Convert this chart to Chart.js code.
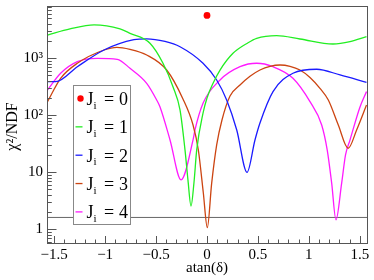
<!DOCTYPE html>
<html lang="en">
<head>
<meta charset="UTF-8">
<title>chi2/NDF vs atan(delta)</title>
<style>
  html, body { margin: 0; padding: 0; background: #fff; }
  #wrap { width: 374px; height: 280px; }
</style>
</head>
<body>
<div id="wrap"><canvas id="chart" width="374" height="280"></canvas></div>
<script src="https://cdn.jsdelivr.net/npm/chart.js"></script>
<script>
// J_i = 0 : only one point
const j0X = [0];
const j0Y = [5600];

// J_i = 1
const j1X = [-1.566, -1.345, -1.109, -0.854, -0.756, -0.560, -0.432, -0.334, -0.265, -0.216, -0.187, -0.157, -0.128, -0.101, -0.039, 0, 0.062, 0.128, 0.255, 0.403, 0.488, 0.684, 0.913, 1.237, 1.404, 1.566];
const j1Y = [2540, 3240, 3810, 3240, 2720, 1820, 811, 315, 123, 24.5, 7.3, 2.54, 6.5, 24.5, 108, 200, 370, 617, 1213, 1862, 2225, 2472, 2163, 1766, 1940, 2373];

// J_i = 2
const j2X = [-1.566, -1.485, -1.273, -1.011, -0.717, -0.592, -0.413, -0.265, -0.039, 0.095, 0.193, 0.292, 0.393, 0.471, 0.520, 0.648, 0.844, 1.077, 1.306, 1.566];
const j2Y = [385, 385, 706, 1387, 2100, 2180, 1960, 1583, 811, 413, 184, 54.7, 9.9, 36.6, 72.6, 258, 541, 637, 506, 376];

// J_i = 3
const j3X = [-1.566, -1.437, -1.273, -1.011, -0.884, -0.756, -0.592, -0.396, -0.236, -0.137, -0.085, -0.036, 0.003, 0.046, 0.095, 0.147, 0.226, 0.324, 0.422, 0.520, 0.619, 0.717, 0.815, 0.913, 1.011, 1.109, 1.191, 1.289, 1.386, 1.469, 1.566];
const j3Y = [172, 442, 811, 1387, 1546, 1426, 1134, 618, 192, 67, 24.4, 4.3, 1.06, 6.4, 30, 82, 216, 337, 480, 618, 718, 757, 718, 618, 457, 295, 184, 67, 26.2, 54.8, 150];

// J_i = 4
const j4X = [-1.566, -1.437, -1.273, -1.077, -0.881, -0.756, -0.592, -0.494, -0.462, -0.363, -0.255, -0.137, -0.118, -0.039, 0.128, 0.324, 0.488, 0.648, 0.844, 1.011, 1.126, 1.180, 1.224, 1.266, 1.322, 1.360, 1.404, 1.502, 1.566];
const j4Y = [275, 541, 865, 991, 952, 662, 361, 184, 140, 36.6, 7.3, 36.6, 54.8, 161, 413, 706, 811, 706, 442, 172, 67, 24.5, 6.4, 1.45, 6.4, 20, 36.6, 139, 258];

// horizontal reference line
const refX = [-1.5708, 1.5708];
const refY = [1.6, 1.6];

const spins = ['0', '1', '2', '3', '4'];
const colors = ['#ff0000', '#22ee22', '#1a1aff', '#cc4411', '#ff1aff'];
const xTicks = [-1.5, -1, -0.5, 0, 0.5, 1, 1.5];
const yTicks = [1, 10, 100, 1000];
const yTickLabels = ['1', '10', '10²', '10³'];

const pts = (xs, ys) => xs.map((x, i) => ({ x: x, y: ys[i] }));

function curve(label, xs, ys, color) {
  return {
    label: label,
    data: pts(xs, ys),
    borderColor: color,
    backgroundColor: color,
    borderWidth: 1.3,
    pointRadius: 0,
    cubicInterpolationMode: 'monotone',
    fill: false
  };
}

const serif = 'Liberation Serif, Times New Roman, serif';

// ROOT-like frame, inward ticks, titles and legend
const decorations = {
  id: 'decorations',
  afterDraw(chart) {
    const ctx = chart.ctx;
    const a = chart.chartArea;
    const sx = chart.scales.x, sy = chart.scales.y;
    ctx.save();

    // frame
    ctx.strokeStyle = '#555';
    ctx.lineWidth = 1;
    ctx.strokeRect(Math.round(a.left) + 0.5, Math.round(a.top) + 0.5,
      Math.round(a.right - a.left), Math.round(a.bottom - a.top));

    // x ticks
    ctx.beginPath();
    for (let k = -15; k <= 15; k++) {
      const px = Math.round(sx.getPixelForValue(k / 10)) + 0.5;
      const len = k % 5 === 0 ? 7 : 3.5;
      ctx.moveTo(px, a.bottom);
      ctx.lineTo(px, a.bottom - len);
    }
    // y ticks (log)
    for (let d = -1; d <= 3; d++) {
      for (let m = 1; m <= 9; m++) {
        const v = m * Math.pow(10, d);
        if (v < sy.min || v > sy.max) continue;
        const py = Math.round(sy.getPixelForValue(v)) + 0.5;
        const len = m === 1 ? 9.5 : 4.8;
        ctx.moveTo(a.left, py);
        ctx.lineTo(a.left + len, py);
      }
    }
    ctx.stroke();

    // axis titles
    ctx.fillStyle = '#000';
    ctx.font = '15px ' + serif;
    ctx.textAlign = 'center';
    ctx.textBaseline = 'middle';
    ctx.fillText('atan(δ)', (a.left + a.right) / 2, 268);
    ctx.save();
    ctx.translate(13, (a.top + a.bottom) / 2 + 2);
    ctx.rotate(-Math.PI / 2);
    ctx.font = '16px ' + serif;
    ctx.fillText('χ²/NDF', 0, 0);
    ctx.restore();

    // legend
    const lx = 73, ly = 85, lw = 58, lh = 140;
    ctx.fillStyle = '#fff';
    ctx.fillRect(lx, ly, lw, lh);
    ctx.strokeStyle = '#888';
    ctx.strokeRect(lx + 0.5, ly + 0.5, lw - 1, lh - 1);
    const rows = chart.data.datasets.filter(ds => ds.spin !== undefined);
    rows.forEach((ds, i) => {
      const ry = 98.5 + i * 28.35;
      if (ds.showLine === false) {
        ctx.fillStyle = ds.backgroundColor;
        ctx.beginPath();
        ctx.arc(80.5, ry, 3.2, 0, Math.PI * 2);
        ctx.fill();
      } else {
        ctx.strokeStyle = ds.borderColor;
        ctx.lineWidth = 1.3;
        ctx.beginPath();
        ctx.moveTo(75.5, ry);
        ctx.lineTo(82.5, ry);
        ctx.stroke();
      }
      ctx.fillStyle = '#000';
      ctx.textAlign = 'left';
      ctx.textBaseline = 'alphabetic';
      ctx.font = '18px ' + serif;
      ctx.fillText('J', 86.5, ry + 6.5);
      ctx.font = '11px ' + serif;
      ctx.fillText('i', 93.5, ry + 10);
      ctx.font = '18px ' + serif;
      ctx.fillText('=', 104, ry + 6.5);
      ctx.fillText(ds.spin, 119, ry + 6.5);
    });
    ctx.restore();
  }
};

const datasets = [
  {
    label: 'J_i = 0',
    spin: spins[0],
    data: pts(j0X, j0Y),
    showLine: false,
    pointRadius: 3.4,
    pointBorderWidth: 0,
    backgroundColor: colors[0],
    borderColor: colors[0]
  },
  Object.assign(curve('J_i = 1', j1X, j1Y, colors[1]), { spin: spins[1] }),
  Object.assign(curve('J_i = 2', j2X, j2Y, colors[2]), { spin: spins[2] }),
  Object.assign(curve('J_i = 3', j3X, j3Y, colors[3]), { spin: spins[3] }),
  Object.assign(curve('J_i = 4', j4X, j4Y, colors[4]), { spin: spins[4] }),
  {
    label: 'ref',
    data: pts(refX, refY),
    borderColor: '#666',
    borderWidth: 1,
    pointRadius: 0,
    fill: false
  }
];

new Chart(document.getElementById('chart'), {
  type: 'line',
  data: { datasets: datasets },
  options: {
    responsive: false,
    animation: false,
    devicePixelRatio: 1,
    layout: { padding: { top: 6, right: 7, left: 0, bottom: 0 } },
    plugins: { legend: { display: false }, tooltip: { enabled: false } },
    scales: {
      x: {
        type: 'linear',
        min: -Math.PI / 2,
        max: Math.PI / 2,
        afterBuildTicks: s => { s.ticks = xTicks.map(v => ({ value: v })); },
        afterFit: s => { s.height = 37; s.paddingLeft = 0; s.paddingRight = 0; },
        grid: { display: false, drawTicks: false },
        border: { display: false },
        ticks: {
          padding: 3,
          maxRotation: 0,
          autoSkip: false,
          color: '#000',
          font: { family: serif, size: 15 },
          callback: v => String(v).replace('-', '\u2212')
        }
      },
      y: {
        type: 'logarithmic',
        min: 0.57,
        max: 8200,
        afterBuildTicks: s => { s.ticks = yTicks.map(v => ({ value: v })); },
        afterFit: s => { s.width = 47; s.paddingTop = 0; s.paddingBottom = 0; },
        grid: { display: false, drawTicks: false },
        border: { display: false },
        ticks: {
          padding: 4,
          autoSkip: false,
          color: '#000',
          font: { family: serif, size: 15 },
          callback: (v, i) => yTickLabels[i]
        }
      }
    }
  },
  plugins: [decorations]
});
</script>
</body>
</html>
